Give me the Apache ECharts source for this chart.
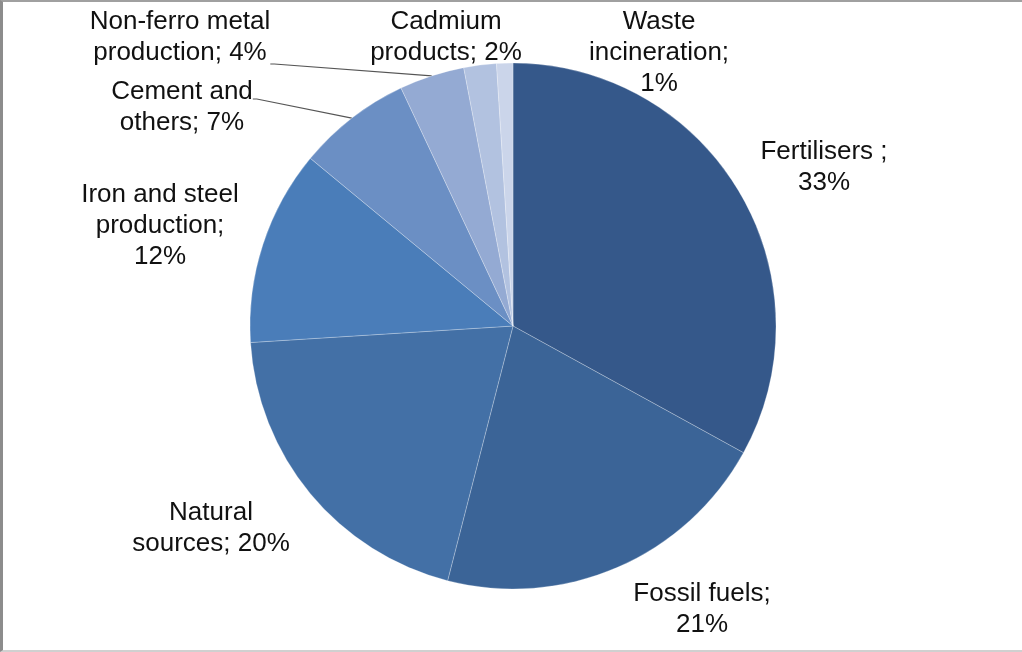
<!DOCTYPE html>
<html>
<head>
<meta charset="utf-8">
<script src="https://cdn.jsdelivr.net/npm/echarts@6/dist/echarts.min.js"></script>
<style>
  html, body { margin: 0; padding: 0; background: #fff; }
  #frame { position: absolute; left: 0; top: 0; width: 1022px; height: 652px; box-sizing: border-box;
           border-left: 3px solid #8c8c8c; border-top: 2px solid #a0a0a0; border-bottom: 2px solid #d0d0d0; }
  #chart { position: absolute; left: 0; top: 0; width: 1022px; height: 652px; }
</style>
</head>
<body>
<div id="frame"></div>
<div id="chart"></div>
<script>
// Data
const categories = ['Fertilisers', 'Fossil fuels', 'Natural sources', 'Iron and steel production',
  'Cement and others', 'Non-ferro metal production', 'Cadmium products', 'Waste incineration'];
const values = [33, 21, 20, 12, 7, 4, 2, 1];
const labelTexts = [
  'Fertilisers ;\n33%',
  'Fossil fuels;\n21%',
  'Natural\nsources; 20%',
  'Iron and steel\nproduction;\n12%',
  'Cement and\nothers; 7%',
  'Non-ferro metal\nproduction; 4%',
  'Cadmium\nproducts; 2%',
  'Waste\nincineration;\n1%'
];
const colors = ['#35588a', '#3b6497', '#4370a6', '#4a7db9', '#6b8fc4', '#94aad3', '#b2c2e0', '#cbd5ea'];
const hasLeader = [false, false, false, false, true, true, false, false];

// Label placements (center x, top y) in pixels, and label box padding (shifts leader attachment)
const labelPos = [
  [824, 136], [702, 578], [211, 497], [160, 179],
  [182, 60], [180, 6], [446, 6], [659, 6]
];
const labelPad = [0, 0, 0, 0, [16, 0, 0, 0], [0, 0, 54, 0], 0, 0];

const chart = echarts.init(document.getElementById('chart'), null, { renderer: 'canvas' });
chart.setOption({
  animation: false,
  backgroundColor: 'transparent',
  series: [{
    type: 'pie',
    center: [513, 326],
    radius: 263,
    startAngle: 90,
    clockwise: true,
    avoidLabelOverlap: false,
    data: categories.map((c, i) => ({
      name: c,
      value: values[i],
      itemStyle: { color: colors[i] },
      label: { padding: labelPad[i] },
      labelLine: { show: hasLeader[i] }
    })),
    itemStyle: { borderColor: 'rgba(255,255,255,0.25)', borderWidth: 1 },
    label: {
      show: true,
      position: 'outside',
      formatter: p => labelTexts[p.dataIndex],
      fontFamily: 'Liberation Sans, Arial, sans-serif',
      fontSize: 26,
      lineHeight: 31,
      color: '#111',
      align: 'center'
    },
    labelLine: {
      length: 10,
      length2: 4,
      smooth: false,
      lineStyle: { color: '#555', width: 1.2 }
    },
    labelLayout: function (params) {
      const p = labelPos[params.dataIndex];
      return { x: p[0], y: p[1], align: 'center', verticalAlign: 'top' };
    },
    emphasis: { disabled: true }
  }]
});
</script>
</body>
</html>
